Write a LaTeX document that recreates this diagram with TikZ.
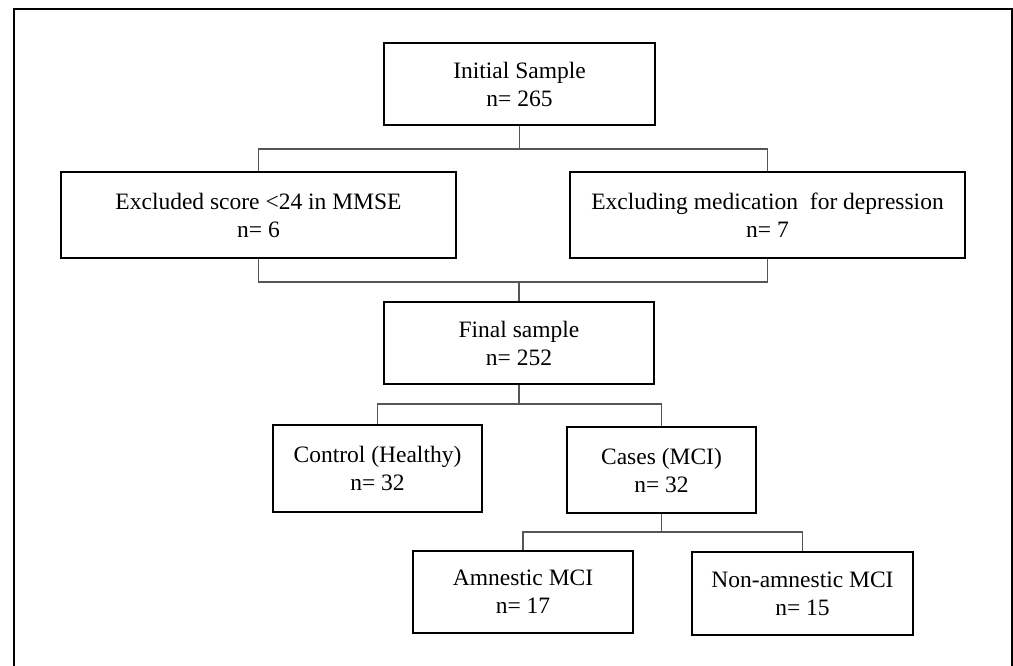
\documentclass[tikz,border=0pt]{standalone}
\usepackage{fontspec}
\setmainfont{Liberation Serif}
\usetikzlibrary{positioning}
\definecolor{linkgray}{RGB}{85,85,85}

\begin{document}
\begin{tikzpicture}[x=1pt,y=-1pt,
    box/.style={draw,line width=1.8pt,align=center,inner sep=2pt,
      font=\fontsize{23.5}{28}\selectfont},
    link/.style={draw=linkgray,line width=1.1pt}]
  \useasboundingbox (0,0) rectangle (1013,666);
  \draw[line width=2.2pt] (14,690) -- (14,9) -- (1012,9) -- (1012,690);
  \foreach \name/\x/\y/\w/\h/\txt in {init/519.5/84/271/82/{Initial Sample\\n= 265},
      excl/258.5/215/395/86/{Excluded score <24 in MMSE\\n= 6},
      med/767.5/215/395/86/{Excluding medication~ for depression\\n= 7},
      final/519/343/270/82/{Final sample\\n= 252},
      ctrl/377.5/468.5/209/87/{Control (Healthy)\\n= 32},
      cases/661.5/470/189/86/{Cases (MCI)\\n= 32},
      amn/523/592/220/82/{Amnestic MCI\\n= 17},
      nonamn/802.5/593.5/221/83/{Non-amnestic MCI\\n= 15}}
  {
    \node[box,minimum width=\w,minimum height=\h] (\name) at (\x,\y) {\txt};
  }
  \coordinate (b1) at (519.5,149);
  \coordinate (b2) at (519,282);
  \coordinate (b3) at (519,404);
  \coordinate (b4) at (661.5,532);
  \draw[link] (init) -- (b1);
  \draw[link] (excl.north) |- (b1) -| (med.north);
  \draw[link] (excl.south) |- (b2) -| (med.south);
  \draw[link] (b2) -- (final);
  \draw[link] (final) -- (b3);
  \draw[link] (ctrl.north) |- (b3) -| (cases.north);
  \draw[link] (cases) -- (b4);
  \draw[link] (amn.north) |- (b4) -| (nonamn.north);
\end{tikzpicture}
\end{document}
